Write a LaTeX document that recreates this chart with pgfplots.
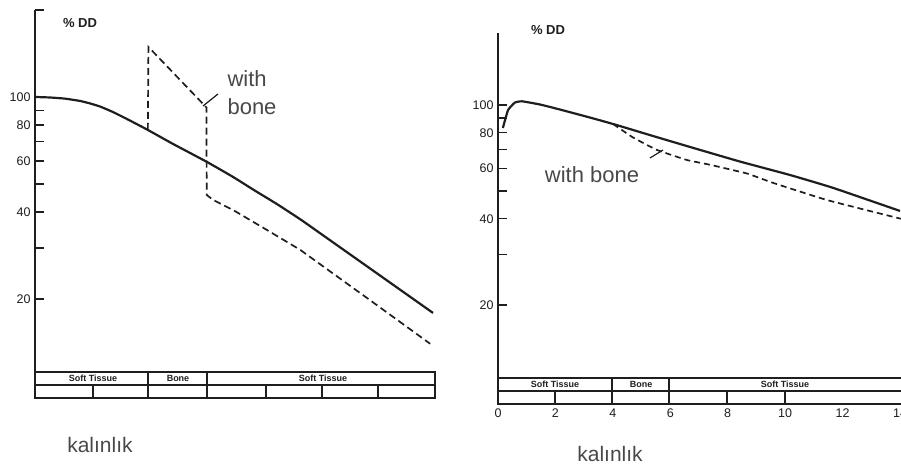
\documentclass[border=0pt]{standalone}
\usepackage{pgfplots}
\pgfplotsset{compat=1.18}
\usepackage{fontspec}
\setmainfont{Liberation Sans}
\definecolor{ink}{HTML}{1E1E1E}
\definecolor{txt}{HTML}{484848}

\pgfplotstableread{
d v
0.000 100.0
0.525 99.6
1.050 98.7
1.575 96.9
1.925 95.0
2.275 92.7
2.730 88.7
3.220 83.9
3.920 77.2
4.830 68.8
6.020 59.6
6.930 52.9
7.700 47.4
8.470 42.6
9.275 37.8
9.975 33.8
13.930 17.9
}\leftsolid

\pgfplotstableread{
d v
3.95 76.9
3.97 149.0
6.00 92.0
6.01 45.8
6.24 44.0
6.94 40.6
8.11 34.7
9.28 29.6
11.55 20.4
13.83 14.0
}\leftdashed

\pgfplotstableread{
d v
0.17 83.1
0.35 96.0
0.59 102.0
0.84 103.0
1.46 100.4
2.16 96.4
3.20 90.4
4.01 85.8
5.29 78.5
6.69 71.3
8.43 63.4
10.17 56.9
11.67 51.3
14.00 42.6
}\rightsolid

\pgfplotstableread{
d v
4.01 85.8
4.70 77.0
5.54 69.6
6.58 64.2
7.38 61.8
8.67 57.6
9.58 53.4
11.46 46.5
13.90 40.3
14.00 40.1
}\rightdashed

\begin{document}
\begin{tikzpicture}[x=1pt,y=1pt]
\path[use as bounding box] (0,0) rectangle (901,470);
% ---------- left panel ----------
\begin{axis}[at={(35pt,72pt)}, anchor=south west,
  scale only axis,
  width=400pt, height=388pt,
  ymode=log,
  xmin=0, xmax=14,
  ymin=9.09, ymax=200,
  axis x line=none,
  axis y line=left,
  y axis line style={-, line width=1.8pt, draw=ink},
  ytick={20,30,40,50,60,70,80,90,100,200},
  yticklabels={20,,40,,60,,80,,100,},
  minor ytick={},
  tick align=inside,
  major tick length=9pt,
  ytick style={line width=1.3pt, draw=ink},
  /pgf/number format/assume math mode=true,
  yticklabel style={font=\fontsize{12.5}{12.5}\selectfont, text=ink, xshift=-1pt},
  clip=false,
]
\addplot[line width=2.2pt, draw=ink, smooth, tension=0.25] table[x=d,y=v]{\leftsolid};
\addplot[line width=1.7pt, draw=ink, dash pattern=on 7pt off 4pt, sharp plot] table[x=d,y=v]{\leftdashed};
\end{axis}
% left table
\begin{scope}[line width=1.3pt, draw=ink]
\draw (35,72) rectangle (435,98);
\draw (35,85) -- (435,85);
\foreach \xx in {148,207} \draw (\xx,85) -- (\xx,98);
\foreach \xx in {93,148,207,266,322,378} \draw (\xx,72) -- (\xx,85);
\end{scope}
\begin{scope}[font=\bfseries\fontsize{9}{9}\selectfont, text=ink]
\node at (93,91.5) {Soft Tissue};
\node at (178,91.5) {Bone};
\node at (323,91.5) {Soft Tissue};
\end{scope}
\node[font=\bfseries\fontsize{13}{13}\selectfont, text=ink] at (80,447) {\% DD};
\node[font=\fontsize{22}{28}\selectfont, text=txt, align=left, anchor=west] at (224,377) {with\\bone};
\draw[line width=1.2pt, ink] (203,364) -- (218,376);
\node[font=\fontsize{21}{21}\selectfont, text=txt] at (100,25) {kalınlık};

% ---------- right panel ----------
\begin{axis}[at={(498pt,66pt)}, anchor=south west,
  scale only axis,
  width=402pt, height=371pt,
  ymode=log,
  xmin=0, xmax=14,
  ymin=9.0, ymax=178.6,
  axis x line=bottom,
  axis y line=left,
  x axis line style={draw=none},
  y axis line style={-, line width=1.8pt, draw=ink},
  xtick={0,2,...,14},
  xtick style={draw=none},
  ytick={20,30,40,50,60,70,80,90,100},
  yticklabels={20,,40,,60,,80,,100},
  minor ytick={},
  tick align=inside,
  major tick length=9pt,
  ytick style={line width=1.3pt, draw=ink},
  /pgf/number format/assume math mode=true,
  yticklabel style={font=\fontsize{12.5}{12.5}\selectfont, text=ink, xshift=-1pt},
  xticklabel style={font=\fontsize{12.5}{12.5}\selectfont, text=ink, yshift=-1pt},
  clip=false,
]
\addplot[line width=2.2pt, draw=ink, smooth, tension=0.25] table[x=d,y=v]{\rightsolid};
\addplot[line width=1.7pt, draw=ink, dash pattern=on 6pt off 4pt, smooth, tension=0.2] table[x=d,y=v]{\rightdashed};
\end{axis}
% right table
\begin{scope}[line width=1.3pt, draw=ink]
\draw (498,66) rectangle (903,92);
\draw (498,79) -- (903,79);
\foreach \xx in {612,669} \draw (\xx,79) -- (\xx,92);
\foreach \xx in {555,612,669,727,785} \draw (\xx,66) -- (\xx,79);
\end{scope}
\begin{scope}[font=\bfseries\fontsize{9}{9}\selectfont, text=ink]
\node at (555,85.5) {Soft Tissue};
\node at (641,85.5) {Bone};
\node at (785,85.5) {Soft Tissue};
\end{scope}
\node[font=\bfseries\fontsize{13}{13}\selectfont, text=ink] at (548,440) {\% DD};
\node[font=\fontsize{22}{22}\selectfont, text=txt] at (592,295) {with bone};
\draw[line width=1.2pt, ink] (650,312) -- (663,320);
\node[font=\fontsize{21}{21}\selectfont, text=txt] at (610,16) {kalınlık};
\end{tikzpicture}
\end{document}
